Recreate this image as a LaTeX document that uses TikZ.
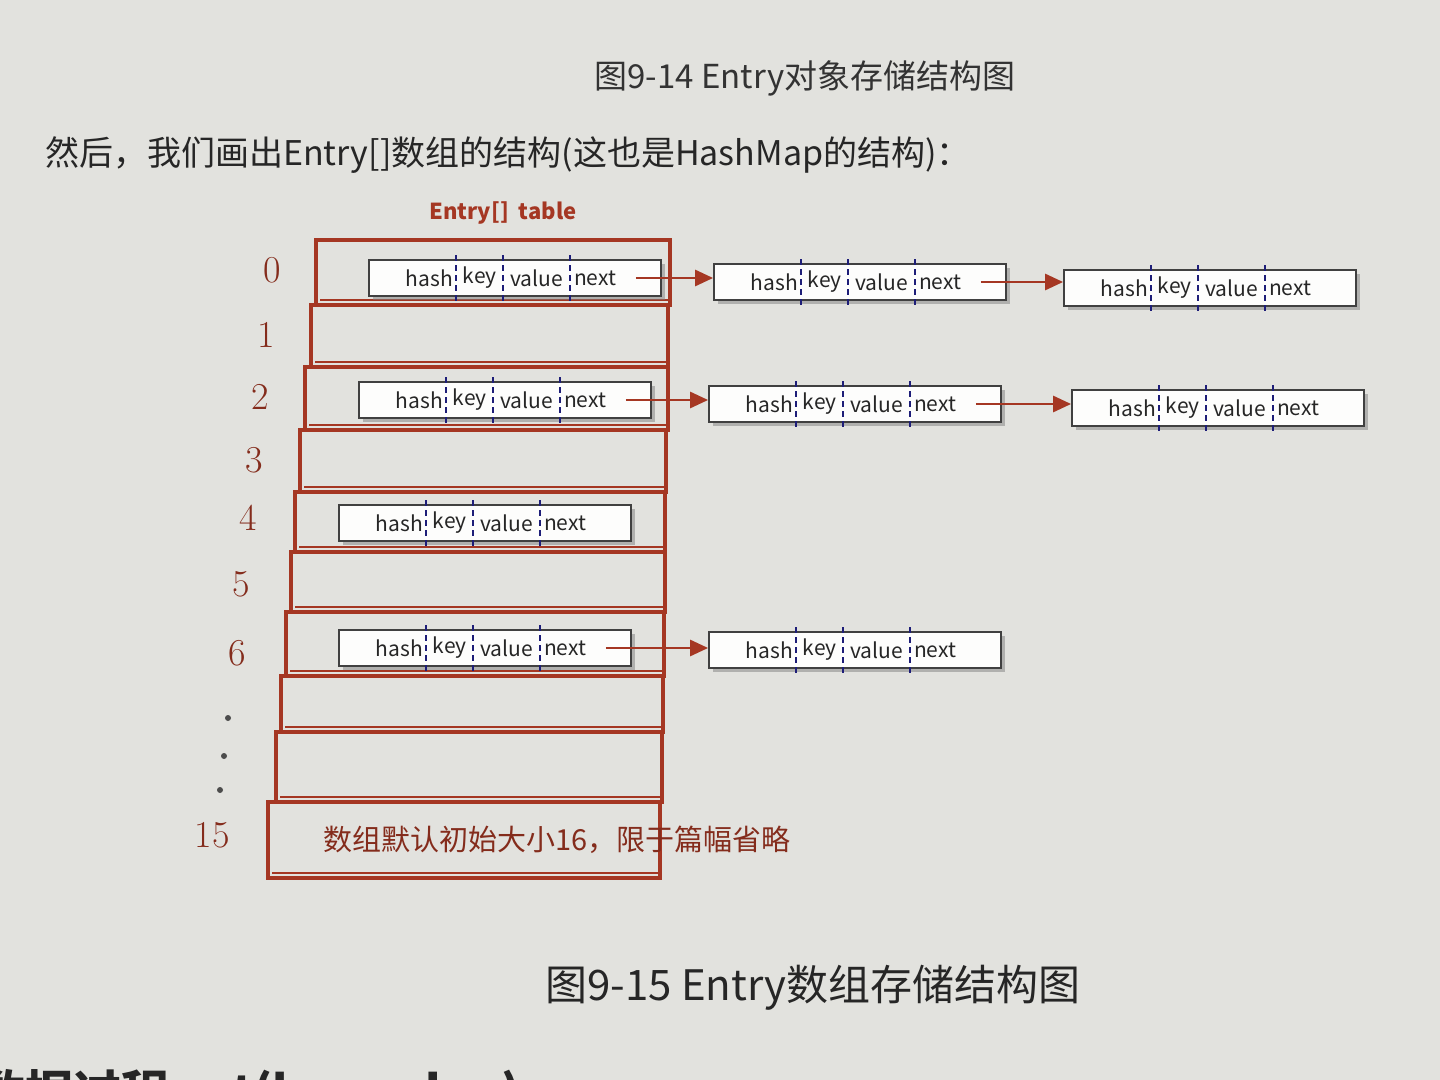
\documentclass[tikz,border=0pt]{standalone}
\usepackage{fontspec}
\setmainfont{Noto Sans CJK SC}
\newfontfamily\numfont{Latin Modern Roman}
\usetikzlibrary{calc,shadows,arrows.meta}
\definecolor{brk}{RGB}{165,55,35}
\definecolor{bg}{RGB}{226,226,222}
\definecolor{dv}{RGB}{30,30,120}
\tikzset{
 rowbox/.style={draw=brk,line width=1.6pt},
 ebox/.style={draw=black!75,fill=white!92!bg,line width=0.9pt,minimum width=146pt,minimum height=18pt,inner sep=0pt,drop shadow={shadow xshift=2pt,shadow yshift=-2pt,opacity=0.5}},
 lab/.style={font=\fontsize{10.5}{12}\selectfont,text=black!85,inner sep=0pt},
 ptr/.style={draw=brk,line width=1.4pt,-{Triangle[length=9pt,width=8pt]}},
 idx/.style={font=\numfont\fontsize{19}{20}\selectfont,text=brk!80!black}
}
\newcommand\entrybox[3]{%
 \node[ebox] (#1) at (#2,#3) {};
 \foreach \f in {0.30,0.46,0.686}{\draw[dv,densely dashed,line width=1pt] ($(#1.north west)!\f!(#1.north east)+(0,2pt)$) -- ($(#1.south west)!\f!(#1.south east)+(0,-2pt)$);}
 \node[lab,anchor=east] at ($(#1.west)!0.29!(#1.east)$) {hash};
 \node[lab] at ($(#1.west)!0.38!(#1.east)$) {key};
 \node[lab] at ($(#1.west)!0.573!(#1.east)$) {value};
 \node[lab,anchor=west] at ($(#1.west)!0.70!(#1.east)$) {next};
}
\begin{document}
\begin{tikzpicture}[x=0.5pt,y=-0.5pt]
\fill[bg] (0,0) rectangle (1440,1080);
\useasboundingbox (0,0) rectangle (1440,1080);
\node[font=\fontsize{16.5}{18}\selectfont,text=black!80] (t1) at (805,78) {图9-14 Entry对象存储结构图};
\node[font=\fontsize{17}{18}\selectfont,text=black!85,anchor=west] (t2) at (38,155) {然后，我们画出Entry[]数组的结构(这也是HashMap的结构)：};
\node[font=\bfseries\fontsize{11}{12}\selectfont,text=brk] (tt) at (503,213) {Entry[]\ \ table};
% rows
\foreach \t/\b/\l/\r [count=\i] in {240/305/316/670,305/367/311/668,367/430/305/668,430/492/300/666,492/552/295/665,552/612/291/665,612/676/286/664,676/732/281/663,732/802/276/662,802/878/268/660}{
 \draw[rowbox] (\l,\t) rectangle (\r,\b);
 \draw[brk,line width=1pt] (\l+4,\b-5) -- (\r-2,\b-5);
}
\foreach \n/\x/\y in {0/272/270,1/266/335,2/260/397,3/254/460,4/248/518,5/241/584,6/237/653,15/212/835}{
 \node[idx] (i\n) at (\x,\y) {\n};
}
\foreach \x/\y [count=\k] in {228/718,224/756,220/790}{\fill[black!70] (\x,\y) circle (1.5pt);}
\node[font=\fontsize{14.5}{16}\selectfont,text=brk!80!black,anchor=west] (note) at (316,840) {数组默认初始大小16，限于篇幅省略};
% entries
\entrybox{a0}{515}{278}
\entrybox{a1}{860}{282}
\entrybox{a2}{1210}{288}
\entrybox{b0}{505}{400}
\entrybox{b1}{855}{404}
\entrybox{b2}{1218}{408}
\entrybox{c0}{485}{523}
\entrybox{d0}{485}{648}
\entrybox{d1}{855}{650}
\foreach \s/\d in {a0/a1,a1/a2,b0/b1,b1/b2,d0/d1}{
 \draw[ptr] ($(\s.east)+(-13pt,0)$) -- (\d.west |- \s.east);
}
\node[font=\fontsize{21}{22}\selectfont,text=black!85] (t3) at (813,988) {图9-15 Entry数组存储结构图};
\begin{scope}
\clip (0,0) rectangle (1440,1080);
\node[font=\bfseries\fontsize{24}{26}\selectfont,text=black!85,anchor=west] (t4) at (-30,1095) {数据过程put(key,value)};
\end{scope}
\end{tikzpicture}
\end{document}
